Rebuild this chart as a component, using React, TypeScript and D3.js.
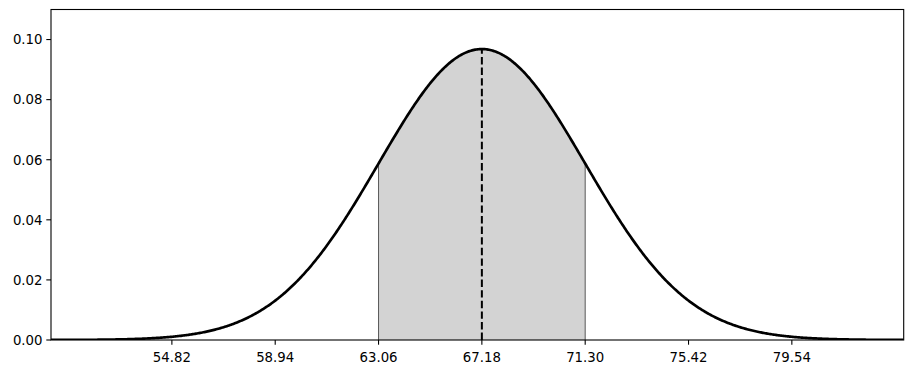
import React from "react";
import * as d3 from "d3";

const MEAN = 67.18;
const SD = 4.12;
const X_DOMAIN = [50, 84];
const Y_DOMAIN = [0, 0.11];
const X_TICKS = [54.82, 58.94, 63.06, 67.18, 71.3, 75.42, 79.54];
const Y_TICKS = [0.0, 0.02, 0.04, 0.06, 0.08, 0.1];
const SHADE_RANGE = [63.06, 71.3];

const W = 913;
const H = 374;
const L = 51;
const R = 903.7;
const T = 9.5;
const B = 340;

const pdf = (x: number) =>
  Math.exp(-0.5 * ((x - MEAN) / SD) ** 2) / (SD * Math.sqrt(2 * Math.PI));

export default function App() {
  const x = d3.scaleLinear().domain(X_DOMAIN).range([L, R]);
  const y = d3.scaleLinear().domain(Y_DOMAIN).range([B, T]);

  const xs = d3.range(0, 801).map((i) => X_DOMAIN[0] + ((X_DOMAIN[1] - X_DOMAIN[0]) * i) / 800);
  const pts: [number, number][] = xs.map((v) => [v, pdf(v)]);
  const line = d3
    .line<[number, number]>()
    .x((d) => x(d[0]))
    .y((d) => y(d[1]));

  const shadeXs = d3.range(0, 401).map(
    (i) => SHADE_RANGE[0] + ((SHADE_RANGE[1] - SHADE_RANGE[0]) * i) / 400
  );
  const area = d3
    .area<number>()
    .x((d) => x(d))
    .y0(y(0))
    .y1((d) => y(pdf(d)));

  const font = "'DejaVu Sans', sans-serif";

  return (
    <svg
      width={W}
      height={H}
      style={{ position: "absolute", left: 0, top: 0, background: "#fff" }}
    >
      <defs>
        <clipPath id="clip">
          <rect x={L} y={T} width={R - L} height={B - T} />
        </clipPath>
      </defs>
      <g clipPath="url(#clip)">
        <path d={area(shadeXs) || ""} fill="#d3d3d3" />
        {SHADE_RANGE.map((v, i) => (
          <line
            key={i}
            x1={x(v)}
            x2={x(v)}
            y1={y(0)}
            y2={y(pdf(v))}
            stroke="#333"
            strokeWidth={0.8}
          />
        ))}
        <line
          x1={x(MEAN)}
          x2={x(MEAN)}
          y1={y(0)}
          y2={y(pdf(MEAN))}
          stroke="#000"
          strokeWidth={2}
          strokeDasharray="7.4,3.2"
        />
        <path d={line(pts) || ""} fill="none" stroke="#000" strokeWidth={2.67} />
      </g>
      <rect x={L} y={T} width={R - L} height={B - T} fill="none" stroke="#000" strokeWidth={1.1} />
      {X_TICKS.map((v) => (
        <g key={v}>
          <line x1={x(v)} x2={x(v)} y1={B} y2={B + 4.7} stroke="#000" strokeWidth={1.1} />
          <text
            x={x(v)}
            y={B + 22}
            textAnchor="middle"
            fontFamily={font}
            fontSize={13.3}
            fill="#000"
          >
            {v.toFixed(2)}
          </text>
        </g>
      ))}
      {Y_TICKS.map((v) => (
        <g key={v}>
          <line x1={L - 4.7} x2={L} y1={y(v)} y2={y(v)} stroke="#000" strokeWidth={1.1} />
          <text
            x={L - 8.5}
            y={y(v) + 4.8}
            textAnchor="end"
            fontFamily={font}
            fontSize={13.3}
            fill="#000"
          >
            {v.toFixed(2)}
          </text>
        </g>
      ))}
    </svg>
  );
}
